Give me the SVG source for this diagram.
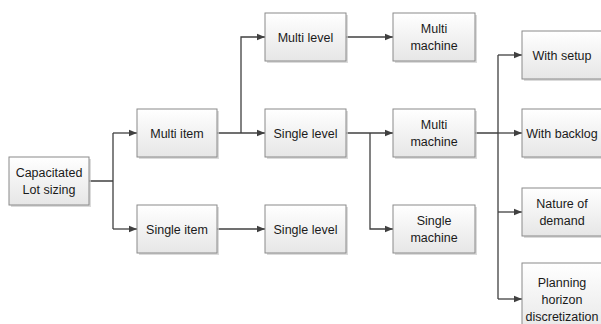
<svg xmlns="http://www.w3.org/2000/svg" width="601" height="324" viewBox="0 0 601 324">
  <defs>
    <linearGradient id="boxfill" x1="0" y1="0" x2="0" y2="1">
      <stop offset="0" stop-color="#ffffff"/>
      <stop offset="1" stop-color="#e6e6e6"/>
    </linearGradient>
    <marker id="arrow" viewBox="0 0 8 8" refX="8" refY="4" markerWidth="8" markerHeight="8" markerUnits="userSpaceOnUse" orient="auto">
      <path d="M0,0.8 L8,4 L0,7.2 Z" fill="#404040"/>
    </marker>
    <style>
      .shadow { fill: #cccccc; opacity: 0.7; }
      .box { fill: url(#boxfill); stroke: #8a8a8a; stroke-width: 1; }
      .lbl { font-family: "Liberation Sans", Arial, sans-serif; font-size: 12.5px; fill: #1a1a1a; text-anchor: middle; }
      .conn { fill: none; stroke: #404040; stroke-width: 1.3; }
      .arr { marker-end: url(#arrow); }
    </style>
  </defs>
  <rect width="601" height="324" fill="#ffffff"/>

  <g id="connectors">
    <path class="conn" d="M89,181 H113 M113,133 V229"/>
    <path class="conn arr" d="M113,133 H137"/>
    <path class="conn arr" d="M113,229 H137"/>
    <path class="conn arr" d="M217,133 H265"/>
    <path class="conn arr" d="M241,133 V37 H265"/>
    <path class="conn arr" d="M217,229 H265"/>
    <path class="conn arr" d="M346,37 H393"/>
    <path class="conn arr" d="M346,133 H393"/>
    <path class="conn arr" d="M370,133 V229 H393"/>
    <path class="conn" d="M475,133 H498 M498,55 V299"/>
    <path class="conn arr" d="M498,55 H522"/>
    <path class="conn arr" d="M498,133 H522"/>
    <path class="conn arr" d="M498,212 H522"/>
    <path class="conn arr" d="M498,299 H522"/>
  </g>

  <g id="capacitated-lot-sizing">
    <rect class="shadow" x="11" y="159" width="80" height="48"/>
    <rect class="box" x="9" y="157" width="80" height="48"/>
    <text class="lbl" x="49" y="177">Capacitated</text>
    <text class="lbl" x="49" y="194">Lot sizing</text>
  </g>

  <g id="multi-item">
    <rect class="shadow" x="139" y="111" width="80" height="48"/>
    <rect class="box" x="137" y="109" width="80" height="48"/>
    <text class="lbl" x="177" y="137.5">Multi item</text>
  </g>

  <g id="single-item">
    <rect class="shadow" x="139" y="207" width="80" height="48"/>
    <rect class="box" x="137" y="205" width="80" height="48"/>
    <text class="lbl" x="177" y="233.5">Single item</text>
  </g>

  <g id="multi-level">
    <rect class="shadow" x="267" y="15" width="81" height="48"/>
    <rect class="box" x="265" y="13" width="81" height="48"/>
    <text class="lbl" x="305.5" y="41.5">Multi level</text>
  </g>

  <g id="single-level-1">
    <rect class="shadow" x="267" y="111" width="81" height="48"/>
    <rect class="box" x="265" y="109" width="81" height="48"/>
    <text class="lbl" x="305.5" y="137.5">Single level</text>
  </g>

  <g id="single-level-2">
    <rect class="shadow" x="267" y="207" width="81" height="48"/>
    <rect class="box" x="265" y="205" width="81" height="48"/>
    <text class="lbl" x="305.5" y="233.5">Single level</text>
  </g>

  <g id="multi-machine-1">
    <rect class="shadow" x="395" y="15" width="82" height="48"/>
    <rect class="box" x="393" y="13" width="82" height="48"/>
    <text class="lbl" x="434" y="33">Multi</text>
    <text class="lbl" x="434" y="50">machine</text>
  </g>

  <g id="multi-machine-2">
    <rect class="shadow" x="395" y="111" width="82" height="48"/>
    <rect class="box" x="393" y="109" width="82" height="48"/>
    <text class="lbl" x="434" y="129">Multi</text>
    <text class="lbl" x="434" y="146">machine</text>
  </g>

  <g id="single-machine">
    <rect class="shadow" x="395" y="207" width="82" height="48"/>
    <rect class="box" x="393" y="205" width="82" height="48"/>
    <text class="lbl" x="434" y="225">Single</text>
    <text class="lbl" x="434" y="242">machine</text>
  </g>

  <g id="with-setup">
    <rect class="shadow" x="524" y="33" width="80" height="48"/>
    <rect class="box" x="522" y="31" width="80" height="48"/>
    <text class="lbl" x="562" y="59.5">With setup</text>
  </g>

  <g id="with-backlog">
    <rect class="shadow" x="524" y="111" width="80" height="48"/>
    <rect class="box" x="522" y="109" width="80" height="48"/>
    <text class="lbl" x="562" y="137.5">With backlog</text>
  </g>

  <g id="nature-of-demand">
    <rect class="shadow" x="524" y="190" width="80" height="48"/>
    <rect class="box" x="522" y="188" width="80" height="48"/>
    <text class="lbl" x="562" y="208">Nature of</text>
    <text class="lbl" x="562" y="225">demand</text>
  </g>

  <g id="planning-horizon-discretization">
    <rect class="shadow" x="524" y="265" width="80" height="72"/>
    <rect class="box" x="522" y="263" width="80" height="72"/>
    <text class="lbl" x="562" y="287">Planning</text>
    <text class="lbl" x="562" y="304">horizon</text>
    <text class="lbl" x="562" y="320.5">discretization</text>
  </g>
</svg>
